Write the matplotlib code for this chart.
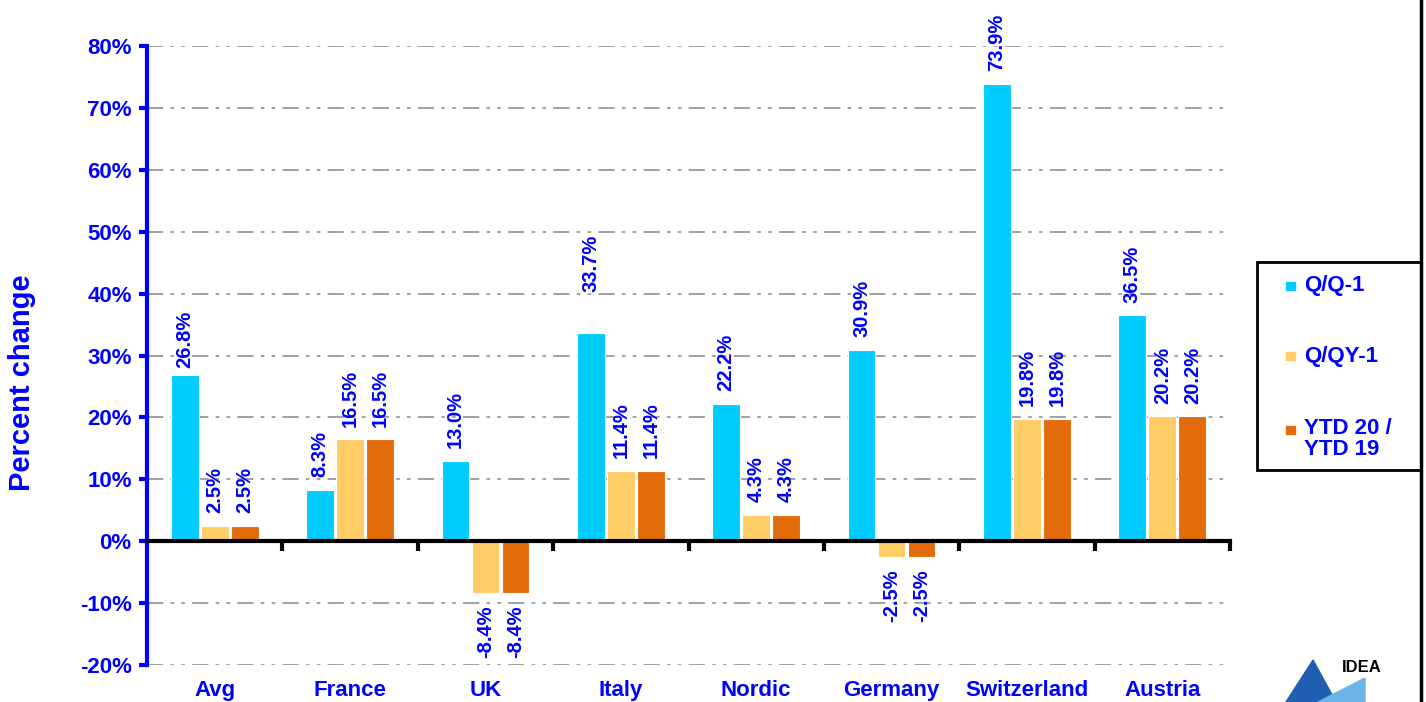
import matplotlib.pyplot as plt
import matplotlib.patches as mpatches
from matplotlib.lines import Line2D
import matplotlib.transforms as mtransforms
from matplotlib import font_manager
import numpy as np

plt.rcParams['font.family'] = ['Liberation Sans', 'DejaVu Sans']
plt.rcParams['font.weight'] = 'bold'

# data
categories = ['Avg', 'France', 'UK', 'Italy', 'Nordic', 'Germany', 'Switzerland', 'Austria']
qq1 = [26.8, 8.3, 13.0, 33.7, 22.2, 30.9, 73.9, 36.5]
qqy1 = [2.5, 16.5, -8.4, 11.4, 4.3, -2.5, 19.8, 20.2]
ytd = [2.5, 16.5, -8.4, 11.4, 4.3, -2.5, 19.8, 20.2]
series_names = ['Q/Q-1', 'Q/QY-1', 'YTD 20 /\nYTD 19']
yticks = np.arange(-20, 81, 10)

blue = '#0000FF'
colors = ['#00CCFF', '#FFCC66', '#E36C0A']

# value labels look horizontally stretched -> narrow face at a bigger size if we have it
installed = {f.name for f in font_manager.fontManager.ttflist}
if 'Liberation Sans Narrow' in installed:
    lab_font, lab_size = 'Liberation Sans Narrow', 17
else:
    lab_font, lab_size = 'Liberation Sans', 14.5

fig = plt.figure(figsize=(14.26, 7.02), dpi=100)
ax = fig.add_axes([147/1426, 1 - 665/702, (1230 - 147)/1426, (665 - 46)/702])

x = np.arange(len(categories))
w = 0.205
offs = [-0.222, 0.0, 0.222]

# grid lines (dash dot dot)
for yv in yticks:
    if yv != 0:
        ax.axhline(yv, color='#9a9a9a', lw=1.3, ls=(0, (9, 4, 2, 4, 2, 4)), zorder=0)

for si, (vals, off, c) in enumerate(zip([qq1, qqy1, ytd], offs, colors)):
    bars = ax.bar(x + off, vals, w, color=c, edgecolor='white', lw=0.8, zorder=2)
    for ci, (b, v) in enumerate(zip(bars, vals)):
        pad = 9
        if si == 0 and categories[ci] == 'Italy':
            pad = 29  # this one sits higher in the original
        if si == 0 and categories[ci] == 'Avg':
            pad = 5
        ax.annotate('%.1f%%' % v, (b.get_x() + b.get_width()/2, b.get_height()),
                    xytext=(0, pad if v >= 0 else -pad), textcoords='offset points',
                    rotation=90, ha='center', va='bottom' if v >= 0 else 'top',
                    color=blue, fontsize=lab_size, fontweight='bold',
                    family=[lab_font, 'DejaVu Sans'])

ax.set_xlim(-0.5, len(categories) - 0.5)
ax.set_ylim(-20, 80)

# zero line as the bottom spine with ticks between categories
ax.spines['bottom'].set_position(('data', 0))
ax.spines['bottom'].set_linewidth(3)
ax.spines['bottom'].set_color('black')
ax.spines['bottom'].set_zorder(3)
ax.set_xticks(np.append(x[1:] - 0.5, len(categories) - 0.5))
ax.tick_params(axis='x', direction='out', length=7, width=3, color='black', labelbottom=False)

ax.spines['left'].set_linewidth(3)
ax.spines['left'].set_color(blue)
ax.spines['top'].set_visible(False)
ax.spines['right'].set_visible(False)
ax.set_yticks(yticks)
ax.set_yticklabels(['%d%%' % t for t in yticks], color=blue, fontsize=16, fontweight='bold')
ax.tick_params(axis='y', direction='out', length=6, width=3, color=blue, pad=5)

# category names under the plot
trans = mtransforms.blended_transform_factory(ax.transData, ax.transAxes)
for xi, name in zip(x, categories):
    ax.text(xi, -0.042, name, transform=trans, ha='center', va='center',
            color=blue, fontsize=16, fontweight='bold')

fig.text(22/1426, 1 - 383/702, 'Percent change', rotation=90, ha='center', va='center',
         color=blue, fontsize=21, fontweight='bold')

# legend box drawn by hand (figure pixels -> fractions)
W, H = 1426.0, 702.0
fig.add_artist(mpatches.Rectangle((1257/W, 1 - 470/H), (1421 - 1257)/W, (470 - 262)/H,
                                  fill=False, edgecolor='black', lw=2))
leg_y = [286, 356, 439]
for name, c, yy in zip(series_names, colors, leg_y):
    top = yy if '\n' not in name else 430
    fig.add_artist(mpatches.Rectangle((1286/W, 1 - (top + 4)/H), 9/W, 8/H, color=c))
    fig.text(1304/W, 1 - yy/H, name, ha='left', va='center', color=blue,
             fontsize=16, fontweight='bold', linespacing=1.0)

# right edge line
fig.add_artist(Line2D([1421/W, 1421/W], [0, 1], color='black', lw=2.5))

# small logo bottom right
fig.add_artist(mpatches.Polygon([[1286/W, 0], [1313/W, 1 - 660/H], [1336/W, 0]],
                                closed=True, color='#1F5FB0'))
fig.add_artist(mpatches.Polygon([[1318/W, 0], [1365/W, 1 - 678/H], [1365/W, 0]],
                                closed=True, color='#6AB4E8'))
fig.text(1362/W, 1 - 668/H, 'IDEA', ha='center', va='center', fontsize=12,
         fontweight='bold', color='black')

fig.savefig('out.png', dpi=100)
